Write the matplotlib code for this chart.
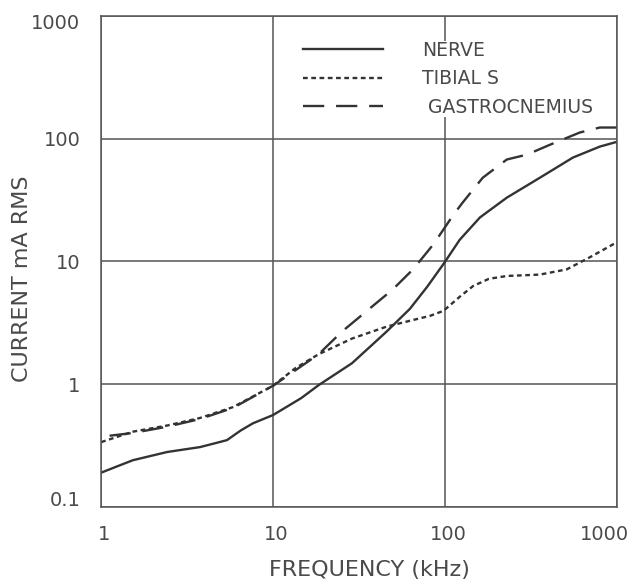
import numpy as np
import matplotlib.pyplot as plt
from matplotlib.transforms import ScaledTranslation

# frequency (kHz) and current (mA RMS)
nerve_f = [1.0, 1.25, 1.53, 2.42, 3.76, 4.6, 5.4, 6.5, 7.65, 10, 14.6, 18.4, 28.8, 45.8, 62.5,
           78.8, 98, 122, 160, 229, 357, 555, 796, 1000]
nerve_i = [0.19, 0.215, 0.24, 0.28, 0.307, 0.33, 0.35, 0.42, 0.48, 0.56, 0.77, 0.98, 1.48, 2.68, 4.1,
           6.2, 9.5, 15, 22.8, 33, 48, 70, 86, 94]

tibial_f = [1.0, 1.53, 2.42, 3.76, 5.85, 10, 13.5, 18.4, 28.8, 45.8, 62.5, 82, 98, 123, 146,
            180, 229, 357, 511, 697, 1000]
tibial_i = [0.337, 0.41, 0.46, 0.53, 0.65, 0.97, 1.35, 1.75, 2.35, 2.94, 3.28, 3.6, 3.95, 5.2, 6.3,
            7.2, 7.6, 7.8, 8.6, 10.8, 14.3]

gastro_f = [1.12, 1.53, 2.42, 3.76, 5.85, 10, 18.4, 25.2, 36.3, 49.7, 65.2, 85.5, 112, 127,
            166, 229, 300, 408, 609, 796, 1000]
gastro_i = [0.38, 0.40, 0.45, 0.52, 0.64, 0.97, 1.75, 2.68, 4.1, 5.9, 8.6, 13.7, 23.9, 30.2,
            48, 67.5, 74, 89, 112, 123, 123]

xticks = [1, 10, 100, 1000]
yticks = [0.1, 1, 10, 100, 1000]

ink = '#333333'
txt = '#4a4a4a'
fig = plt.figure(figsize=(6.32, 5.84), dpi=100)
ax = fig.add_axes([0.160, 0.132, 0.816, 0.841])

ax.plot(nerve_f, nerve_i, color=ink, lw=1.7, label='NERVE')
ax.plot(tibial_f, tibial_i, color=ink, lw=1.7, dashes=(2.0, 1.5), label='TIBIAL S')
ax.plot(gastro_f, gastro_i, color=ink, lw=1.7, dashes=(9, 5), label=' GASTROCNEMIUS')

ax.set_xscale('log')
ax.set_yscale('log')
ax.set_xlim(1, 1000)
ax.set_ylim(0.1, 1000)
ax.set_xticks(xticks)
ax.set_xticklabels(['1', '10', '100', '1000'])
ax.set_yticks(yticks)
ax.set_yticklabels(['0.1', '1', '10', '100', '1000'])
ax.minorticks_off()
ax.tick_params(length=0, labelsize=14, colors=txt)
ax.tick_params(axis='x', pad=13)
ax.tick_params(axis='y', pad=15)
ax.grid(True, color='#555555', lw=1.1)
for s in ax.spines.values():
    s.set_color('#555555')
    s.set_linewidth(1.1)

# nudge end labels the way the original is lettered
xl = ax.get_xticklabels()
xl[-1].set_transform(xl[-1].get_transform() + ScaledTranslation(-0.12, 0, fig.dpi_scale_trans))
for lab in xl[:-1]:
    lab.set_transform(lab.get_transform() + ScaledTranslation(0.03, 0, fig.dpi_scale_trans))
yl = ax.get_yticklabels()
yl[-1].set_transform(yl[-1].get_transform() + ScaledTranslation(0, -0.06, fig.dpi_scale_trans))
yl[0].set_transform(yl[0].get_transform() + ScaledTranslation(0, 0.08, fig.dpi_scale_trans))

ax.set_xlabel('FREQUENCY (kHz)', fontsize=16, color=txt)
ax.set_ylabel('CURRENT mA RMS', fontsize=16, color=txt)
ax.xaxis.set_label_coords(0.521, -0.108)
ax.yaxis.set_label_coords(-0.134, 0.464)

leg = ax.legend(loc='upper left', bbox_to_anchor=(0.392, 0.949), frameon=True,
                fontsize=13.5, handlelength=4.27, handletextpad=2.05,
                labelspacing=0.5, borderaxespad=0, borderpad=0)
leg.get_frame().set_facecolor('white')
leg.get_frame().set_edgecolor('none')
leg.get_frame().set_alpha(1)
for t in leg.get_texts():
    t.set_color(txt)

fig.savefig('out.png', dpi=100, facecolor='white')
